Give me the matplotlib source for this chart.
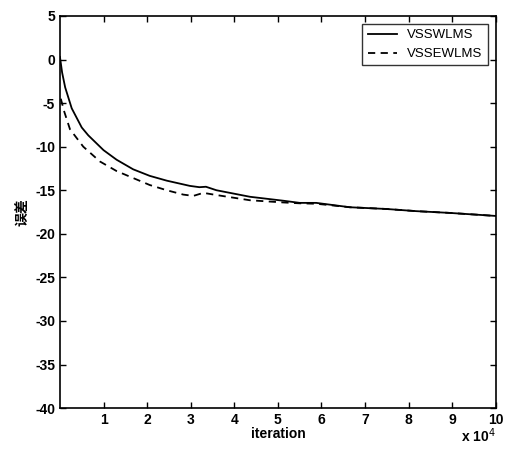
import matplotlib
matplotlib.use('agg')
import matplotlib.pyplot as plt

plt.rcParams['font.family'] = ['Liberation Sans', 'Noto Sans CJK SC', 'DejaVu Sans']
plt.rcParams['axes.unicode_minus'] = False

# iteration in units of 1e4
x_vsswlms = [0.0, 0.05, 0.12, 0.27, 0.5, 0.65, 1.0, 1.3, 1.68, 2.06, 2.45, 2.98,
             3.2, 3.35, 3.59, 4.36, 5.12, 5.5, 5.88, 6.65, 7.49, 8.18, 8.94, 9.7, 10.0]
y_vsswlms = [0.3, -1.5, -3.2, -5.6, -7.8, -8.7, -10.4, -11.5, -12.6, -13.35, -13.9, -14.5,
             -14.65, -14.6, -15.0, -15.75, -16.2, -16.45, -16.45, -16.95, -17.15, -17.4, -17.6, -17.85, -17.95]

x_vssewlms = [0.02, 0.1, 0.23, 0.535, 0.917, 1.3, 1.68, 2.06, 2.45, 2.83, 3.06, 3.29,
              3.59, 4.36, 5.12, 5.5, 5.88, 6.65, 7.49, 8.18, 8.94, 9.7, 10.0]
y_vssewlms = [-4.5, -6.0, -8.0, -10.0, -11.7, -12.8, -13.6, -14.4, -15.0, -15.5, -15.65, -15.3,
              -15.55, -16.15, -16.4, -16.5, -16.55, -16.95, -17.15, -17.4, -17.6, -17.85, -17.95]

fig = plt.figure(figsize=(5.08, 4.55), dpi=100)
ax = fig.add_axes([0.118, 0.103, 0.858, 0.862])

ax.plot(x_vsswlms, y_vsswlms, color='black', linewidth=1.3, label='VSSWLMS')
ax.plot(x_vssewlms, y_vssewlms, color='black', linewidth=1.3, linestyle=(0, (4, 3)), label='VSSEWLMS')

ax.set_xlim(0, 10)
ax.set_ylim(-40, 5)
ax.set_xticks(range(1, 11))
ax.set_yticks(range(-40, 6, 5))
ax.tick_params(direction='in', top=True, right=True, labelsize=10, length=4, width=1)
for lbl in ax.get_xticklabels() + ax.get_yticklabels():
    lbl.set_fontweight('bold')
for sp in ax.spines.values():
    sp.set_linewidth(1.2)

ax.set_xlabel('iteration', fontsize=10, fontweight='bold', labelpad=0)
ax.set_ylabel('误差', fontsize=10, fontweight='bold', family=['Noto Sans CJK SC', 'DejaVu Sans'], labelpad=3)
ax.text(1.0, -0.047, 'x 10$^4$', transform=ax.transAxes, ha='right', va='top', fontsize=10, fontweight='bold')

leg = ax.legend(loc='upper right', fontsize=9.5, frameon=True, fancybox=False,
                edgecolor='black', handlelength=2.2, borderaxespad=0.6)
leg.get_frame().set_linewidth(1.0)

fig.savefig('out.png', dpi=100)
